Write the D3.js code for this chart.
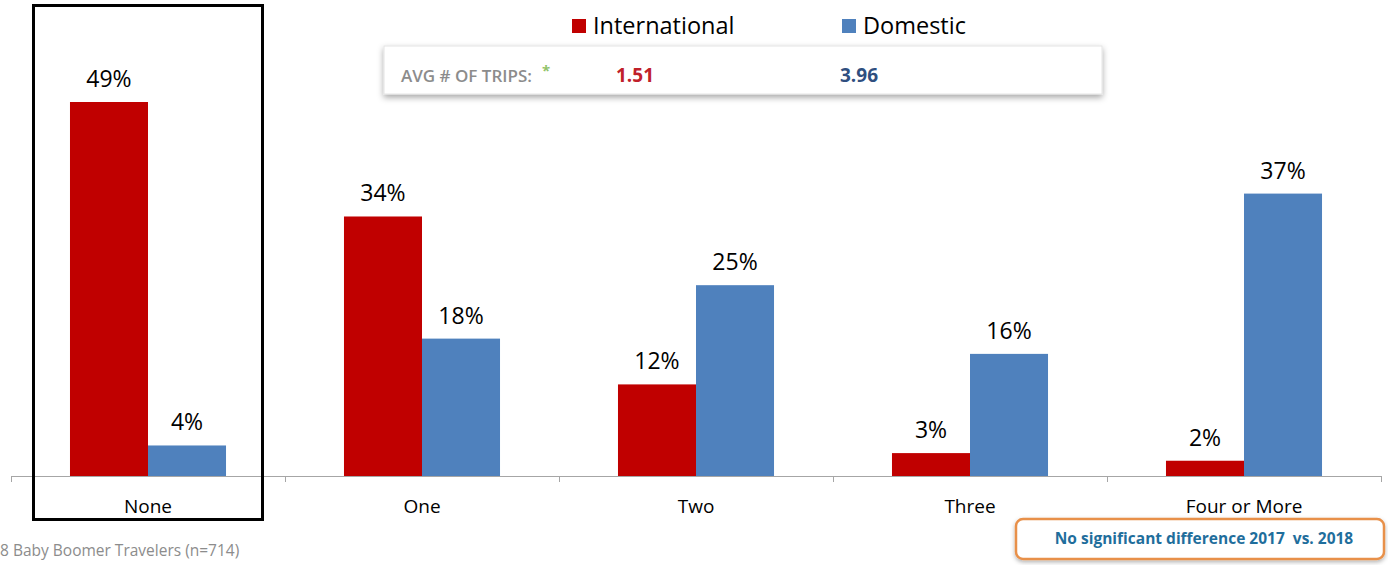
<!DOCTYPE html>
<html>
<head>
<meta charset="utf-8">
<script src="https://cdn.jsdelivr.net/npm/d3@7"></script>
<style>
  body { margin: 0; background: #fff; }
  svg { display: block; font-family: "Open Sans", "Noto Sans", sans-serif; }
</style>
</head>
<body>
<svg id="chart" width="1388" height="565"></svg>
<script>
// Data
var categories = ["None", "One", "Two", "Three", "Four or More"];
var seriesNames = ["International", "Domestic"];
var international = [49, 34, 12, 3, 2];
var domestic = [4, 18, 25, 16, 37];
var avgTrips = ["1.51", "3.96"];

var colors = { International: "#c00000", Domestic: "#4f81bd" };

var svg = d3.select("#chart");

var baseY = 476;

// Scales
var x0 = d3.scaleBand()
    .domain(categories)
    .range([11, 1381])
    .padding(0);

var x1 = d3.scaleBand()
    .domain(seriesNames)
    .range([0, x0.bandwidth()])
    .paddingInner(0)
    .paddingOuter(0.756);

var y = d3.scaleLinear()
    .domain([0, 49])
    .range([baseY, 102]);

var rows = categories.map(function(c, i) {
    return { cat: c, values: [
        { key: "International", value: international[i] },
        { key: "Domestic", value: domestic[i] }
    ] };
});

// Bars
var groups = svg.selectAll(".group")
    .data(rows)
    .enter().append("g")
    .attr("class", "group")
    .attr("transform", function(d) { return "translate(" + x0(d.cat) + ",0)"; });

groups.selectAll("rect")
    .data(function(d) { return d.values; })
    .enter().append("rect")
    .attr("x", function(d) { return x1(d.key); })
    .attr("y", function(d) { return y(d.value); })
    .attr("width", x1.bandwidth())
    .attr("height", function(d) { return baseY - y(d.value); })
    .style("fill", function(d) { return colors[d.key]; });

// Value labels
groups.selectAll(".bar-value")
    .data(function(d) { return d.values; })
    .enter().append("text")
    .attr("class", "bar-value")
    .attr("x", function(d) { return x1(d.key) + x1.bandwidth() / 2; })
    .attr("y", function(d) { return y(d.value) - 15; })
    .attr("text-anchor", "middle")
    .style("font-size", "23px")
    .style("fill", "#000")
    .text(function(d) { return d.value + "%"; });

// Category axis
var xAxis = d3.axisBottom(x0).tickSize(0).tickPadding(0);
var axisG = svg.append("g")
    .attr("transform", "translate(0," + baseY + ")")
    .call(xAxis);
axisG.select(".domain").attr("stroke", "#a6a6a6").attr("d", "M11,0.5H1381");
axisG.selectAll(".tick text")
    .attr("y", 37)
    .attr("dy", null)
    .style("font-family", "\"Open Sans\", sans-serif")
    .style("font-size", "19px")
    .style("fill", "#000");

// Tick marks at band edges
var edges = categories.map(function(c) { return x0(c); }).concat([x0.range()[1]]);
svg.selectAll(".edge-tick")
    .data(edges)
    .enter().append("line")
    .attr("x1", function(d) { return d + 0.5; })
    .attr("x2", function(d) { return d + 0.5; })
    .attr("y1", baseY)
    .attr("y2", baseY + 6)
    .style("stroke", "#a6a6a6");

// Highlight box around "None"
svg.append("rect")
    .attr("x", 33.5)
    .attr("y", 5.5)
    .attr("width", 229)
    .attr("height", 514)
    .style("fill", "none")
    .style("stroke", "#000")
    .style("stroke-width", 3);

// Legend
var legend = svg.append("g");
var legendX = [572, 842];
seriesNames.forEach(function(s, i) {
    legend.append("rect")
        .attr("x", legendX[i])
        .attr("y", 19)
        .attr("width", 14)
        .attr("height", 14)
        .style("fill", colors[s]);
    legend.append("text")
        .attr("x", legendX[i] + 21)
        .attr("y", 34)
        .style("font-size", "23.5px")
        .style("fill", "#000")
        .text(s);
});

// Avg box with shadow
var defs = svg.append("defs");
var f = defs.append("filter").attr("id", "shadow").attr("x", "-10%").attr("y", "-30%").attr("width", "120%").attr("height", "180%");
f.append("feDropShadow").attr("dx", 0).attr("dy", 3).attr("stdDeviation", 3).attr("flood-color", "#000").attr("flood-opacity", 0.35);

svg.append("rect")
    .attr("x", 384)
    .attr("y", 46)
    .attr("width", 718)
    .attr("height", 48)
    .style("fill", "#fff")
    .style("stroke", "#e4e4e4")
    .attr("filter", "url(#shadow)");

svg.append("text")
    .attr("x", 401)
    .attr("y", 82)
    .style("font-family", "\"Open Sans\", sans-serif")
    .style("font-size", "17px")
    .style("font-weight", "600")
    .style("fill", "#8c8c8c")
    .text("AVG # OF TRIPS:");

svg.append("text")
    .attr("x", 542)
    .attr("y", 76)
    .style("font-size", "15px")
    .style("font-weight", "bold")
    .style("fill", "#92c36a")
    .text("*");

var avgX = [616, 840];
var avgColors = ["#c0202a", "#2f4f7f"];
avgTrips.forEach(function(v, i) {
    svg.append("text")
        .attr("x", avgX[i])
        .attr("y", 82)
        .style("font-size", "19px")
        .style("font-weight", "bold")
        .style("fill", avgColors[i])
        .text(v);
});

// Footnote
svg.append("text")
    .attr("x", 0)
    .attr("y", 556)
    .style("font-size", "15.5px")
    .style("fill", "#8c8c8c")
    .text("8 Baby Boomer Travelers (n=714)");

// Orange note box
var f2 = defs.append("filter").attr("id", "glow").attr("x", "-10%").attr("y", "-40%").attr("width", "120%").attr("height", "180%");
f2.append("feDropShadow").attr("dx", 0).attr("dy", 2).attr("stdDeviation", 2).attr("flood-color", "#000").attr("flood-opacity", 0.3);

svg.append("rect")
    .attr("x", 1016)
    .attr("y", 519)
    .attr("width", 368)
    .attr("height", 40)
    .attr("rx", 7)
    .style("fill", "#fff")
    .style("stroke", "#e8904a")
    .style("stroke-width", 2.5)
    .attr("filter", "url(#glow)");

svg.append("text")
    .attr("x", 1204)
    .attr("y", 544)
    .attr("text-anchor", "middle")
    .style("font-size", "15.5px")
    .style("font-weight", "bold")
    .style("fill", "#1f6e9c")
    .style("white-space", "pre")
    .text("No significant difference 2017  vs. 2018");
</script>
</body>
</html>
